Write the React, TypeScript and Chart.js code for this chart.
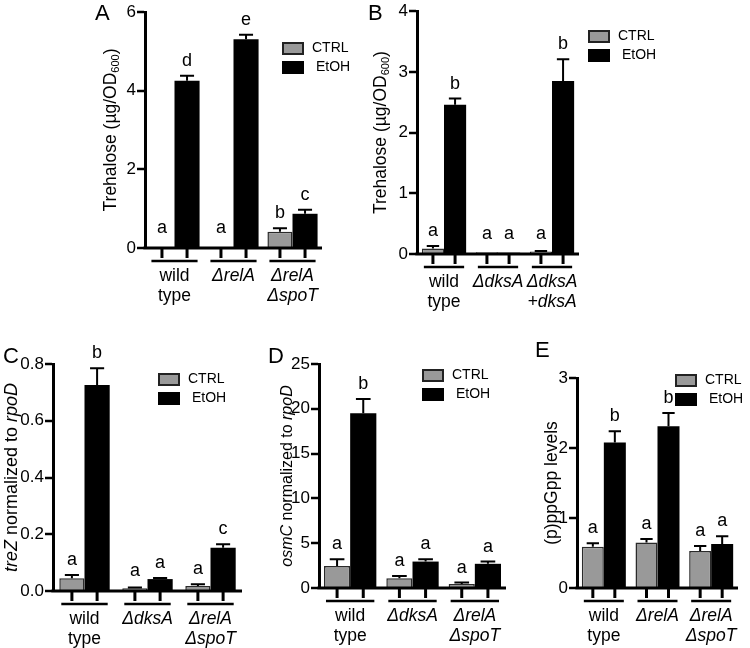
import React, { useEffect, useRef } from "react";
import { Chart, registerables } from "chart.js";
Chart.register(...registerables);

const FONT = '"Liberation Sans", Arial, Helvetica, sans-serif';
const SERIES = ["CTRL", "EtOH"];

// ---- Panel A ----
const catsA = [["wild", "type"], ["ΔrelA"], ["ΔrelA", "ΔspoT"]];
const ctrlA = [0, 0, 0.41];
const ctrlErrA = [0, 0, 0.09];
const etohA = [4.25, 5.31, 0.87];
const etohErrA = [0.13, 0.11, 0.1];
const ctrlLetA = ["a", "a", "b"];
const etohLetA = ["d", "e", "c"];
const ticksA = ["0", "2", "4", "6"];

// ---- Panel B ----
const catsB = [["wild", "type"], ["ΔdksA"], ["ΔdksA", "+dksA"]];
const ctrlB = [0.09, 0.03, 0.04];
const ctrlErrB = [0.04, 0, 0.01];
const etohB = [2.46, 0.02, 2.85];
const etohErrB = [0.1, 0, 0.36];
const ctrlLetB = ["a", "a", "a"];
const etohLetB = ["b", "a", "b"];
const ticksB = ["0", "1", "2", "3", "4"];

// ---- Panel C ----
const catsC = [["wild", "type"], ["ΔdksA"], ["ΔrelA", "ΔspoT"]];
const ctrlC = [0.045, 0.01, 0.018];
const ctrlErrC = [0.011, 0.002, 0.006];
const etohC = [0.726, 0.042, 0.152];
const etohErrC = [0.059, 0.004, 0.013];
const ctrlLetC = ["a", "a", "a"];
const etohLetC = ["b", "a", "c"];
const ticksC = ["0.0", "0.2", "0.4", "0.6", "0.8"];

// ---- Panel D ----
const catsD = [["wild", "type"], ["ΔdksA"], ["ΔrelA", "ΔspoT"]];
const ctrlD = [2.45, 1.1, 0.45];
const ctrlErrD = [0.75, 0.25, 0.15];
const etohD = [19.5, 2.95, 2.7];
const etohErrD = [1.6, 0.25, 0.25];
const ctrlLetD = ["a", "a", "a"];
const etohLetD = ["b", "a", "a"];
const ticksD = ["0", "5", "10", "15", "20", "25"];

// ---- Panel E ----
const catsE = [["wild", "type"], ["ΔrelA"], ["ΔrelA", "ΔspoT"]];
const ctrlE = [0.59, 0.65, 0.53];
const ctrlErrE = [0.05, 0.05, 0.07];
const etohE = [2.08, 2.31, 0.63];
const etohErrE = [0.16, 0.19, 0.11];
const ctrlLetE = ["a", "a", "a"];
const etohLetE = ["b", "b", "a"];
const ticksE = ["0", "1", "2", "3"];

const titleA = [{ t: "Trehalose (µg/OD" }, { t: "600", sub: true }, { t: ")" }];
const titleC = [{ t: "treZ", i: true }, { t: " normalized to " }, { t: "rpoD", i: true }];
const titleD = [{ t: "osmC", i: true }, { t: " normalized to " }, { t: "rpoD", i: true }];
const titleE = [{ t: "(p)ppGpp levels" }];

const panels = [
  { key: "A", cats: catsA, ctrl: ctrlA, ctrlErr: ctrlErrA, etoh: etohA, etohErr: etohErrA, ctrlLet: ctrlLetA, etohLet: etohLetA, ticks: ticksA, title: titleA,
    axisX: 145, yTop: 12, y0: 248, xEnd: 322, cp: 0.85, letter: [95, 20], legend: [282, 42], titleX: 111, titleSize: 17.5 },
  { key: "B", cats: catsB, ctrl: ctrlB, ctrlErr: ctrlErrB, etoh: etohB, etohErr: etohErrB, ctrlLet: ctrlLetB, etohLet: etohLetB, ticks: ticksB, title: titleA,
    axisX: 417, yTop: 9, y0: 254, xEnd: 579, cp: 0.82, letter: [368, 20], legend: [588, 30], titleX: 381, titleSize: 17.5 },
  { key: "C", cats: catsC, ctrl: ctrlC, ctrlErr: ctrlErrC, etoh: etohC, etohErr: etohErrC, ctrlLet: ctrlLetC, etohLet: etohLetC, ticks: ticksC, title: titleC,
    axisX: 53, yTop: 364, y0: 591, xEnd: 242, cp: 0.8, letter: [3, 363], legend: [158, 373], titleX: 12, titleSize: 18 },
  { key: "D", cats: catsD, ctrl: ctrlD, ctrlErr: ctrlErrD, etoh: etohD, etohErr: etohErrD, ctrlLet: ctrlLetD, etohLet: etohLetD, ticks: ticksD, title: titleD,
    axisX: 319, yTop: 364, y0: 588, xEnd: 506, cp: 0.84, letter: [268, 363], legend: [422, 369], titleX: 288, titleSize: 16 },
  { key: "E", cats: catsE, ctrl: ctrlE, ctrlErr: ctrlErrE, etoh: etohE, etohErr: etohErrE, ctrlLet: ctrlLetE, etohLet: etohLetE, ticks: ticksE, title: titleE,
    axisX: 577, yTop: 378, y0: 588, xEnd: 738, cp: 0.82, letter: [535, 357], legend: [675, 374], titleX: 552, titleSize: 17.5 },
];

const W = 750, H = 648, YW = 50;

function makePlugin(p: any) {
  return {
    id: "custom" + p.key,
    afterDraw(chart: any) {
      const ctx = chart.ctx;
      const area = chart.chartArea;
      const ys = chart.scales.y;
      const y0 = ys.getPixelForValue(0);
      const m0 = chart.getDatasetMeta(0);
      const m1 = chart.getDatasetMeta(1);
      ctx.save();
      ctx.strokeStyle = "#000";
      ctx.fillStyle = "#000";
      const sets = [
        [m0, p.ctrl, p.ctrlErr, p.ctrlLet],
        [m1, p.etoh, p.etohErr, p.etohLet],
      ];
      sets.forEach(([meta, vals, errs, lets]: any) => {
        meta.data.forEach((el: any, i: number) => {
          const top = ys.getPixelForValue(vals[i] + errs[i]);
          const barTop = ys.getPixelForValue(vals[i]);
          if (errs[i] > 0) {
            ctx.lineWidth = 2;
            ctx.beginPath();
            ctx.moveTo(el.x, barTop);
            ctx.lineTo(el.x, top);
            const cw = el.width * 0.28;
            ctx.moveTo(el.x - cw, top);
            ctx.lineTo(el.x + cw, top);
            ctx.stroke();
          }
          ctx.font = `18px ${FONT}`;
          ctx.textAlign = "center";
          ctx.textBaseline = "bottom";
          ctx.fillText(lets[i], el.x, Math.min(top - 6, y0 - 11));
        });
      });
      // x axis line
      ctx.lineWidth = 3;
      ctx.beginPath();
      ctx.moveTo(area.left - 1.5, y0);
      ctx.lineTo(area.right, y0);
      ctx.stroke();
      // tick marks below each bar
      [...m0.data, ...m1.data].forEach((el: any) => {
        ctx.beginPath();
        ctx.moveTo(el.x, y0);
        ctx.lineTo(el.x, y0 + 10);
        ctx.stroke();
      });
      // group underlines and labels
      p.cats.forEach((lines: string[], i: number) => {
        const a = m0.data[i], b = m1.data[i];
        const l = a.x - a.width / 2 + 2, r = b.x + b.width / 2 - 2;
        ctx.lineWidth = 2.5;
        ctx.beginPath();
        ctx.moveTo(l, y0 + 13);
        ctx.lineTo(r, y0 + 13);
        ctx.stroke();
        const cx = (a.x + b.x) / 2;
        lines.forEach((t, j) => {
          const it = !(t === "wild" || t === "type");
          ctx.font = `${it ? "italic " : ""}17.5px ${FONT}`;
          ctx.textAlign = "center";
          ctx.textBaseline = "middle";
          ctx.fillText(t, cx, y0 + 28 + j * 20);
        });
      });
      // legend
      const [lx, ly] = p.legend;
      ctx.fillStyle = "#999";
      ctx.fillRect(lx, ly, 22, 13);
      ctx.strokeStyle = "#222";
      ctx.lineWidth = 2;
      ctx.strokeRect(lx + 1, ly + 1, 20, 11);
      ctx.fillStyle = "#000";
      ctx.fillRect(lx, ly + 19, 22, 13);
      ctx.font = `14px ${FONT}`;
      ctx.textAlign = "left";
      ctx.textBaseline = "middle";
      ctx.fillText(SERIES[0], lx + 30, ly + 6.5);
      ctx.fillText(SERIES[1], lx + 34, ly + 25.5);
      // y title
      const size = p.titleSize;
      const fontFor = (s: any) => `${s.i ? "italic " : ""}${s.sub ? Math.round(size * 0.65) : size}px ${FONT}`;
      ctx.save();
      ctx.translate(p.titleX, (area.top + area.bottom) / 2);
      ctx.rotate(-Math.PI / 2);
      let total = 0;
      p.title.forEach((s: any) => {
        ctx.font = fontFor(s);
        total += ctx.measureText(s.t).width;
      });
      let x = -total / 2;
      ctx.textAlign = "left";
      ctx.textBaseline = "middle";
      p.title.forEach((s: any) => {
        ctx.font = fontFor(s);
        ctx.fillText(s.t, x, s.sub ? size * 0.28 : 0);
        x += ctx.measureText(s.t).width;
      });
      ctx.restore();
      // panel letter
      ctx.font = `22px ${FONT}`;
      ctx.textAlign = "left";
      ctx.textBaseline = "alphabetic";
      ctx.fillText(p.key, p.letter[0], p.letter[1]);
      ctx.restore();
    },
  };
}

function makeConfig(p: any): any {
  const tickVals = p.ticks.map((t: string) => parseFloat(t));
  return {
    type: "bar",
    data: {
      labels: p.cats.map((c: string[]) => c.join(" ")),
      datasets: [
        { label: SERIES[0], data: p.ctrl, backgroundColor: "#999999", borderColor: "#2a2a2a", borderWidth: 1.5,
          categoryPercentage: p.cp, barPercentage: 1 },
        { label: SERIES[1], data: p.etoh, backgroundColor: "#000000", borderColor: "#000000", borderWidth: 0,
          categoryPercentage: p.cp, barPercentage: 1 },
      ],
    },
    options: {
      responsive: false,
      animation: false,
      layout: { padding: { left: p.axisX - YW, top: p.yTop, right: W - p.xEnd, bottom: H - p.y0 } },
      plugins: { legend: { display: false }, tooltip: { enabled: false } },
      scales: {
        x: { display: false },
        y: {
          min: 0,
          max: tickVals[tickVals.length - 1],
          afterBuildTicks: (s: any) => { s.ticks = tickVals.map((v: number) => ({ value: v })); },
          afterFit: (s: any) => { s.width = YW; },
          ticks: {
            color: "#000",
            font: { family: FONT, size: 17 },
            padding: 1,
            callback: (_v: any, i: number) => p.ticks[i],
          },
          grid: { display: true, drawOnChartArea: false, drawTicks: true, tickLength: 8, color: "#000", lineWidth: 2, tickWidth: 2.5 },
          border: { display: true, color: "#000", width: 3 },
        },
      },
    },
    plugins: [makePlugin(p)],
  };
}

function Panel({ p }: { p: any }) {
  const ref = useRef<HTMLCanvasElement>(null);
  useEffect(() => {
    const chart = new Chart(ref.current as HTMLCanvasElement, makeConfig(p));
    return () => chart.destroy();
  }, []);
  return (
    <canvas
      ref={ref}
      width={W}
      height={H}
      style={{ position: "absolute", left: 0, top: 0, width: W, height: H }}
    />
  );
}

export default function App() {
  return (
    <div style={{ position: "absolute", left: 0, top: 0, width: W, height: H, background: "#fff", overflow: "hidden" }}>
      {panels.map((p) => (
        <Panel key={p.key} p={p} />
      ))}
    </div>
  );
}
